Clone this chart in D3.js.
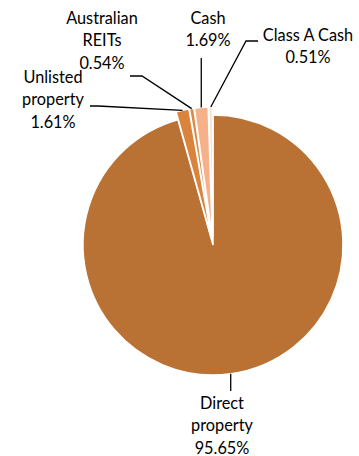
<!DOCTYPE html>
<html><head><meta charset="utf-8">
<script src="https://cdn.jsdelivr.net/npm/d3@7"></script>
<style>body{margin:0;background:#fff}svg{display:block}</style>
</head><body>
<svg id="c" width="359" height="456"></svg>
<script>
const categories = ["Direct property","Unlisted property","Australian REITs","Cash","Class A Cash"];
const values = [95.65, 1.61, 0.54, 1.69, 0.51];
const valueLabels = ["95.65%","1.61%","0.54%","1.69%","0.51%"];
const labelLines = [["Direct","property"],["Unlisted","property"],["Australian","REITs"],["Cash"],["Class A Cash"]];
const colors = ["#BA7234","#D9833D","#DE8A44","#F6B189","#FBE4D6"];

const W=359,H=456,cx=213,cy=245,R=130;
const explode=[0,8,8,8,8];
const layout=[
  {x:222,y:409,pts:a=>[[a[0],391]]},
  {x:53,y:83,pts:a=>[[98,106],[90,106]]},
  {x:102,y:24,pts:a=>[[142,76],[130,76]]},
  {x:208,y:24,pts:a=>[[a[0],58]]},
  {x:308,y:41,pts:a=>[[246,41],[258,41]]}
];
const svg=d3.select("#c");
const pie=d3.pie().sort(null).value(d=>d)(values);
const arc=d3.arc().innerRadius(0).outerRadius(R);
const g=svg.append("g").attr("transform",`translate(${cx},${cy})`);
g.selectAll("path").data(pie).join("path")
  .attr("d",arc)
  .attr("fill",(d,i)=>colors[i])
  .attr("stroke","#fff").attr("stroke-width",1.5)
  .attr("transform",(d,i)=>{const m=(d.startAngle+d.endAngle)/2;return `translate(${explode[i]*Math.sin(m)},${-explode[i]*Math.cos(m)})`;});

pie.forEach((d,i)=>{
  const m=(d.startAngle+d.endAngle)/2, r=R+explode[i];
  const p=[cx+r*Math.sin(m), cy-r*Math.cos(m)];
  const pts=[p].concat(layout[i].pts(p));
  svg.append("path").attr("d",d3.line()(pts)).attr("fill","none").attr("stroke","#000").attr("stroke-width",1.3);
  const lines=labelLines[i].concat([valueLabels[i]]);
  const t=svg.append("text").attr("text-anchor","middle").attr("font-family","Lato, 'Open Sans', sans-serif").attr("font-size",16.3).attr("fill","#000");
  lines.forEach((s,k)=>t.append("tspan").attr("x",layout[i].x).attr("y",layout[i].y+k*22.3).text(s));
});
</script>
</body></html>
